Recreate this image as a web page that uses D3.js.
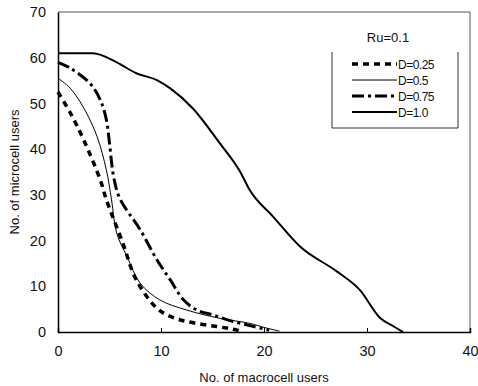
<!DOCTYPE html>
<meta charset="utf-8">
<script src="https://d3js.org/d3.v7.min.js"></script>
<style>
body { margin: 0; background: #fff; }
text { font-family: "Liberation Sans", Arial, sans-serif; fill: #111; }
</style>
<div id="chart"></div>
<script>

// data
var xTicks = [0, 10, 20, 30, 40];
var yTicks = [0, 10, 20, 30, 40, 50, 60, 70];

var d025 = [[0,52.5],[1.2,47.9],[2.5,42],[4.1,33.3],[4.7,28.9],[6.3,19.4],[7.6,11.4],[9.6,5.2],[10.9,3.4],[12.5,2.3],[15.4,1.2],[17,0.6],[18,0]];
var d05  = [[0,55.5],[1.2,53.3],[2.6,48.6],[3.8,42.7],[4.7,35.4],[5.2,28.9],[5.7,21.6],[6.7,16.5],[8,10.6],[9.9,7],[12.5,4.8],[15.7,3],[18.6,1.9],[20,1],[21.5,0.2]];
var d075 = [[0,59],[1.2,57.7],[3.1,54.4],[4.1,50.8],[4.7,46.4],[5,41.3],[5.4,34],[6,29.2],[8,22.3],[9.6,15.8],[10.9,11.4],[12.2,7],[13.5,4.8],[15.1,3.7],[17,2.3],[19,1.2],[20.5,0.4]];
var d10  = [[0,61],[3.4,61],[5.7,59],[7.6,56.6],[9.6,55.1],[10.9,53.3],[13.1,48.9],[15.7,41.3],[17.7,35],[18.6,31.1],[20.9,25.2],[23.5,18.7],[27.1,13.2],[29.3,9.2],[31.3,3],[32.6,1.2],[33.5,0]];

var seriesNames = ["D=0.25", "D=0.5", "D=0.75", "D=1.0"];
var seriesData = [d025, d05, d075, d10];
var legendTitle = "Ru=0.1";

var W = 478, H = 386;
var margin = {top: 12, right: 8, bottom: 54, left: 58};
var width = W - margin.left - margin.right,
    height = H - margin.top - margin.bottom;

var svg = d3.select("#chart").append("svg")
    .attr("width", W).attr("height", H);
var g = svg.append("g")
    .attr("transform", "translate(" + margin.left + "," + margin.top + ")");

var x = d3.scaleLinear().domain([0, 40]).range([0, width]);
var y = d3.scaleLinear().domain([0, 70]).range([height, 0]);

// frame: top and right thin grey
g.append("line").attr("x1", 0).attr("x2", width).attr("y1", 0).attr("y2", 0)
  .attr("stroke", "#555").attr("stroke-width", 1);
g.append("line").attr("x1", width).attr("x2", width).attr("y1", 0).attr("y2", height)
  .attr("stroke", "#555").attr("stroke-width", 1);

// axes
var xAxis = g.append("g").attr("transform", "translate(0," + height + ")")
  .call(d3.axisBottom(x).tickValues(xTicks).tickSize(-4).tickPadding(14));
var yAxis = g.append("g")
  .call(d3.axisLeft(y).tickValues(yTicks).tickSize(0).tickPadding(12));
[xAxis, yAxis].forEach(function(a) {
  a.select(".domain").attr("stroke", "#000").attr("stroke-width", 1.5);
  a.selectAll("text").style("font-size", "14.5px").style("font-family", "Liberation Sans, Arial, sans-serif");
});

// axis titles
svg.append("text").attr("x", margin.left + width / 2).attr("y", 382)
  .attr("text-anchor", "middle").style("font-size", "13px").text("No. of macrocell users");
svg.append("text").attr("transform", "translate(19," + (margin.top + height / 2) + ") rotate(-90)")
  .attr("text-anchor", "middle").style("font-size", "13px").text("No. of microcell users");

var styles = [
  {w: 3.5, dash: "6,5", curve: d3.curveCatmullRom.alpha(0.5)},
  {w: 1, dash: null, curve: d3.curveCatmullRom.alpha(0.5)},
  {w: 3, dash: "12,4,3,4", curve: d3.curveCatmullRom.alpha(0.5)},
  {w: 2, dash: null, curve: d3.curveMonotoneX}
];

seriesData.forEach(function(s, i) {
  var line = d3.line()
    .x(function(d) { return x(d[0]); })
    .y(function(d) { return y(d[1]); })
    .curve(styles[i].curve);
  g.append("path").datum(s)
    .attr("d", line)
    .attr("fill", "none")
    .attr("stroke", "#000")
    .attr("stroke-width", styles[i].w)
    .attr("stroke-dasharray", styles[i].dash);
});

// legend
var lg = svg.append("g");
lg.append("text").attr("x", 388).attr("y", 42).attr("text-anchor", "middle")
  .style("font-size", "13px").text(legendTitle);
lg.append("path").attr("d", "M332,52V128H458V52")
  .attr("fill", "none").attr("stroke", "#333").attr("stroke-width", 1);
seriesNames.forEach(function(n, i) {
  var yy = 64 + i * 16;
  lg.append("line").attr("x1", 352).attr("x2", 397).attr("y1", yy).attr("y2", yy)
    .attr("stroke", "#000").attr("stroke-width", styles[i].w)
    .attr("stroke-dasharray", styles[i].dash);
  lg.append("text").attr("x", 398).attr("y", yy + 4.5)
    .style("font-size", "12px").style("letter-spacing", "-0.5px").text(n);
});

</script>
